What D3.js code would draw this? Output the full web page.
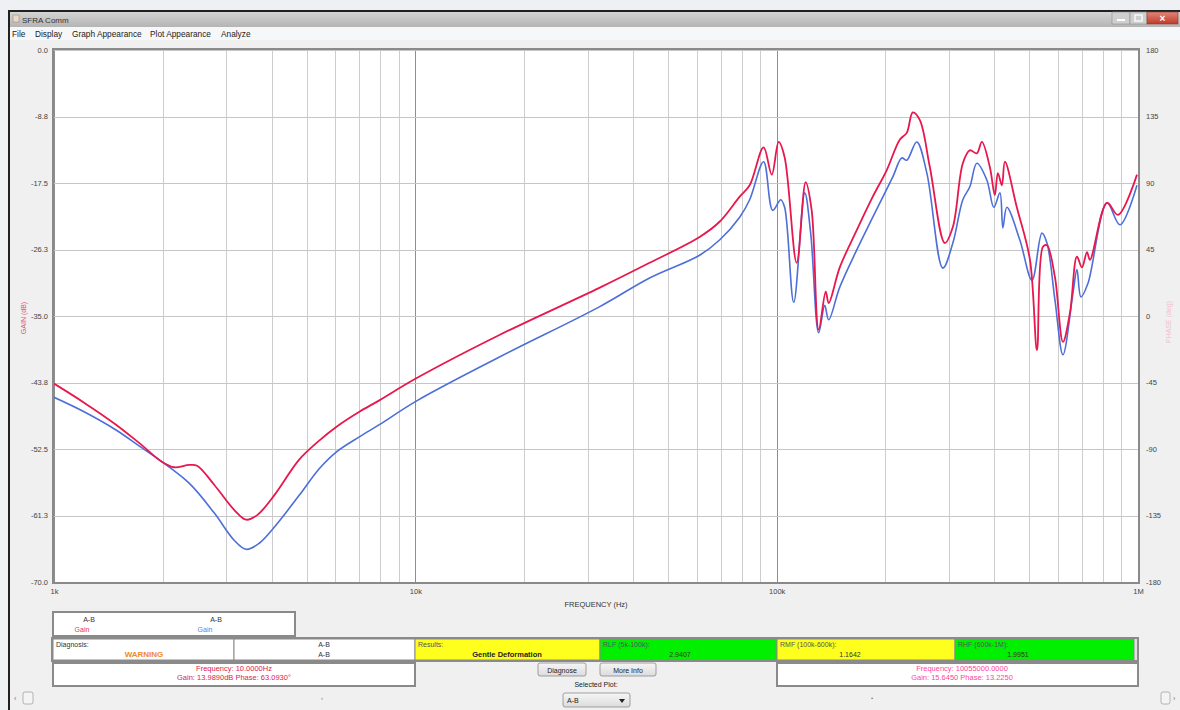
<!DOCTYPE html>
<html><head><meta charset="utf-8">
<script src="https://cdn.jsdelivr.net/npm/d3@7"></script>
<style>
html,body{margin:0;padding:0;background:#eef0f3;overflow:hidden;}
svg{display:block;font-family:"Liberation Sans",Arial,sans-serif;}
</style></head><body>
<svg id="c" width="1180" height="710"></svg>
<script>
// ---------- DATA ----------
const xTickValues = [1000, 10000, 100000, 1000000];
const xTickLabels = ["1k", "10k", "100k", "1M"];
const gainTickValues = [0, -8.75, -17.5, -26.25, -35, -43.75, -52.5, -61.25, -70];
const gainTickLabels = ["0.0", "-8.8", "-17.5", "-26.3", "-35.0", "-43.8", "-52.5", "-61.3", "-70.0"];
const phaseTickValues = [180, 135, 90, 45, 0, -45, -90, -135, -180];
const phaseTickLabels = ["180", "135", "90", "45", "0", "-45", "-90", "-135", "-180"];

// Red trace (A-B Gain), frequency in kHz, gain in dB
const redFreqKHz = [1.000, 1.211, 1.485, 1.720, 1.992, 2.150, 2.366, 2.489, 2.775, 3.152, 3.403, 3.650, 4.068, 4.771, 5.42, 6.04, 7.0, 7.95, 10.06, 17.09, 32.3, 44.5, 61.2, 69.5, 79.0, 84.2, 92.0, 96.9, 101.3, 105.2, 113.6, 120.3, 125.0, 130.7, 136.7, 139.3, 149.5, 166.6, 184.5, 201.7, 219.1, 229.1, 238.1, 248.9, 265.4, 292.0, 307.3, 327.5, 342.4, 358.1, 369.7, 389.0, 401.6, 409.4, 420.1, 428.2, 462.0, 502.3, 525.3, 545.7, 559.8, 589.1, 619.8, 648.1, 677.7, 699.7, 722.4, 736.3, 820.5, 880.4, 993.6];
const redGain = [-43.9, -46.4, -49.3, -51.7, -54.2, -54.9, -54.6, -54.7, -57.2, -60.5, -61.8, -61.2, -58.6, -53.9, -51.4, -49.6, -47.6, -46.1, -43.2, -37.5, -31.3, -28.0, -24.6, -22.6, -19.3, -17.8, -12.8, -16.4, -12.1, -14.1, -28.0, -17.4, -21.1, -36.8, -31.8, -33.3, -28.6, -23.7, -19.3, -15.8, -11.8, -10.9, -8.2, -9.2, -15.4, -25.4, -23.3, -14.9, -13.2, -13.6, -12.1, -15.4, -19.1, -16.2, -17.8, -14.7, -20.7, -27.6, -39.5, -25.9, -25.7, -29.9, -38.4, -34.6, -27.2, -28.6, -26.6, -27.6, -20.1, -21.7, -16.4];

// Blue trace (A-B Gain, reference)
const blueFreqKHz = [1.000, 1.211, 1.485, 1.720, 1.992, 2.366, 2.775, 3.152, 3.403, 3.698, 4.068, 4.771, 5.42, 6.04, 7.0, 7.95, 10.06, 17.09, 32.3, 44.5, 61.2, 69.5, 79.0, 84.2, 92.0, 97.5, 102.6, 105.2, 111.5, 119.6, 124.2, 130.7, 135.8, 139.3, 149.5, 166.6, 184.5, 209.6, 221.9, 229.1, 244.2, 260.4, 288.3, 307.3, 327.5, 342.4, 358.1, 381.6, 399.0, 414.8, 422.7, 433.6, 471.0, 508.8, 542.0, 559.8, 589.1, 619.8, 660.7, 677.7, 695.1, 727.1, 820.5, 891.3, 993.6];
const blueGain = [-45.7, -47.6, -50.0, -52.1, -54.2, -57.0, -60.9, -64.5, -65.7, -64.9, -62.8, -58.6, -55.1, -52.9, -50.9, -49.3, -46.2, -40.4, -33.8, -30.0, -27.0, -25.0, -22.0, -19.7, -14.7, -21.1, -19.7, -20.7, -33.2, -18.8, -24.1, -37.2, -33.6, -35.5, -31.2, -26.3, -22.0, -16.7, -14.2, -14.5, -12.1, -16.2, -28.7, -25.4, -19.7, -18.0, -14.9, -17.1, -20.7, -18.8, -23.4, -20.7, -25.0, -30.3, -24.1, -25.4, -32.9, -40.1, -32.0, -28.9, -32.5, -30.7, -20.1, -23.0, -17.8];

const windowTitle = "SFRA Comm";
const menuItems = ["File", "Display", "Graph Appearance", "Plot Appearance", "Analyze"];
const legendSeries = ["A-B", "A-B"];
const legendMeasure = ["Gain", "Gain"];
const diagLabels = ["Diagnosis:", "A-B", "Results:", "RLF (5k-100k):", "RMF (100k-600k):", "RHF (600k-1M):"];
const diagValues = ["WARNING", "A-B", "Gentle Deformation", "2.9407", "1.1642", "1.9951"];
const cursorLeft = ["Frequency: 10.0000Hz", "Gain: 13.9890dB  Phase: 63.0930°"];
const cursorRight = ["Frequency: 10055000.0000", "Gain: 15.6450  Phase: 13.2250"];
const buttonLabels = ["Diagnose", "More Info"];
const selectedPlotLabel = "Selected Plot:";
const selectedPlotValue = "A-B";
const xAxisTitle = "FREQUENCY (Hz)";
const leftAxisTitle = "GAIN (dB)";
const rightAxisTitle = "PHASE (deg)";

// ---------- DRAW ----------
const svg = d3.select("#c");
const defs = svg.append("defs");
const tg = defs.append("linearGradient").attr("id","tb").attr("x1",0).attr("x2",0).attr("y1",0).attr("y2",1);
tg.append("stop").attr("offset","0%").attr("stop-color","#d4d4d4");
tg.append("stop").attr("offset","100%").attr("stop-color","#b4b4b4");
const cg = defs.append("linearGradient").attr("id","cl").attr("x1",0).attr("x2",0).attr("y1",0).attr("y2",1);
cg.append("stop").attr("offset","0%").attr("stop-color","#e0867a");
cg.append("stop").attr("offset","100%").attr("stop-color","#c23a2a");
const bg = defs.append("linearGradient").attr("id","btn").attr("x1",0).attr("x2",0).attr("y1",0).attr("y2",1);
bg.append("stop").attr("offset","0%").attr("stop-color","#f6f6f6");
bg.append("stop").attr("offset","100%").attr("stop-color","#dcdcdc");

svg.append("rect").attr("width",1180).attr("height",710).attr("fill","#eef0f3");
svg.append("rect").attr("x",9).attr("y",11).attr("width",1171).attr("height",699).attr("fill","#f0f0f0");
// title bar
svg.append("rect").attr("x",10).attr("y",12).attr("width",1170).attr("height",15).attr("fill","url(#tb)");
svg.append("line").attr("x1",8).attr("x2",1180).attr("y1",11).attr("y2",11).attr("stroke","#202020").attr("stroke-width",2);
svg.append("line").attr("x1",9).attr("x2",9).attr("y1",10).attr("y2",710).attr("stroke","#202020").attr("stroke-width",2);
svg.append("rect").attr("x",13).attr("y",15).attr("width",6).attr("height",7).attr("fill","#e9d9c9").attr("stroke","#a08060").attr("stroke-width",0.5);
svg.append("text").attr("x",22).attr("y",23).attr("font-size",8).attr("fill","#333").text(windowTitle);
// caption buttons
svg.append("rect").attr("x",1112).attr("y",12).attr("width",18).attr("height",12).attr("fill","#cfcfcf").attr("stroke","#8c8c8c").attr("stroke-width",0.6);
svg.append("rect").attr("x",1130).attr("y",12).attr("width",17).attr("height",12).attr("fill","#cfcfcf").attr("stroke","#8c8c8c").attr("stroke-width",0.6);
svg.append("rect").attr("x",1147).attr("y",12).attr("width",31).attr("height",12).attr("fill","url(#cl)").attr("stroke","#8c3a30").attr("stroke-width",0.6);
svg.append("line").attr("x1",1117).attr("x2",1125).attr("y1",20).attr("y2",20).attr("stroke","#fff").attr("stroke-width",2);
svg.append("rect").attr("x",1135).attr("y",15).attr("width",7).attr("height",6).attr("fill","none").attr("stroke","#fff").attr("stroke-width",1.3);
svg.append("text").attr("x",1162.5).attr("y",22).attr("text-anchor","middle").attr("font-size",10).attr("font-weight","bold").attr("fill","#fff").text("×");
// menu bar
svg.append("rect").attr("x",10).attr("y",27).attr("width",1170).attr("height",13).attr("fill","#f6f7f9");
const menuX = [12, 35, 72, 150, 221];
svg.selectAll("text.menu").data(menuItems).enter().append("text").attr("class","menu")
  .attr("x",(d,i)=>menuX[i]).attr("y",37).attr("font-size",8.3).attr("fill","#222").text(d=>d);

// plot geometry
const L = 54, R = 1138, T = 50, B = 582;
const x = d3.scaleLog().domain([1000, 1000000]).range([L, R]);
const y = d3.scaleLinear().domain([-70, 0]).range([B, T]);
const yR = d3.scaleLinear().domain([-180, 180]).range([B, T]);

svg.append("rect").attr("x",L).attr("y",T-1).attr("width",R-L).attr("height",B-T+1).attr("fill","#fff");

// vertical grid (all 1..9 multiples per decade)
const isDecade = d => { const l = Math.log10(d); return Math.abs(l - Math.round(l)) < 1e-9; };
const gx = svg.append("g").attr("transform",`translate(0,${B})`)
  .call(d3.axisBottom(x).tickValues(x.ticks(30)).tickSize(-(B-T)).tickFormat(""));
gx.select(".domain").remove();
gx.selectAll(".tick line").attr("stroke", d => isDecade(d) ? "#8e8e8e" : "#cdcdcd")
  .attr("stroke-width",1).attr("shape-rendering","crispEdges");

// horizontal grid
const gy = svg.append("g").attr("transform",`translate(${L},0)`)
  .call(d3.axisLeft(y).tickValues(gainTickValues).tickSize(-(R-L)).tickFormat(""));
gy.select(".domain").remove();
gy.selectAll(".tick line").attr("stroke","#c6c6c6").attr("stroke-width",1).attr("shape-rendering","crispEdges");

// left axis labels
const ay = svg.append("g").attr("transform",`translate(${L-6},0)`)
  .call(d3.axisLeft(y).tickValues(gainTickValues).tickSize(0).tickFormat((d,i)=>gainTickLabels[i]));
ay.select(".domain").remove();
ay.selectAll("text").attr("font-size",7.5).attr("fill","#444").attr("font-family","Liberation Sans, Arial").attr("x",0);

// right axis labels
const ar = svg.append("g").attr("transform",`translate(${R+8},0)`)
  .call(d3.axisRight(yR).tickValues(phaseTickValues).tickSize(0).tickFormat((d,i)=>phaseTickLabels[i]));
ar.select(".domain").remove();
ar.selectAll("text").attr("font-size",7.5).attr("fill","#444").attr("font-family","Liberation Sans, Arial").attr("x",0);

// bottom axis labels
const ax = svg.append("g").attr("transform",`translate(0,${B+7})`)
  .call(d3.axisBottom(x).tickValues(xTickValues).tickSize(0).tickFormat((d,i)=>xTickLabels[i]));
ax.select(".domain").remove();
ax.selectAll("text").attr("font-size",7.5).attr("fill","#444").attr("font-family","Liberation Sans, Arial").attr("y",0).attr("dy","0.71em");

svg.append("text").attr("x",596).attr("y",607).attr("text-anchor","middle").attr("font-size",7.5).attr("fill","#333").text(xAxisTitle);
svg.append("text").attr("transform","translate(26,318) rotate(-90)").attr("text-anchor","middle").attr("font-size",7).attr("fill","#e0557a").text(leftAxisTitle);
svg.append("text").attr("transform","translate(1171,322) rotate(-90)").attr("text-anchor","middle").attr("font-size",7).attr("fill","#f3c2cf").text(rightAxisTitle);

// traces
defs.append("clipPath").attr("id","pc").append("rect").attr("x",L).attr("y",T).attr("width",R-L).attr("height",B-T);
const line = d3.line().x(d=>x(d[0]*1000)).y(d=>y(d[1])).curve(d3.curveCatmullRom.alpha(0.5));
const blueData = blueFreqKHz.map((f,i)=>[f, blueGain[i]]);
const redData = redFreqKHz.map((f,i)=>[f, redGain[i]]);
const pg = svg.append("g").attr("clip-path","url(#pc)");
pg.append("path").datum(blueData).attr("d",line).attr("fill","none").attr("stroke","#4c6fd8").attr("stroke-width",1.6).attr("stroke-linejoin","round");
pg.append("path").datum(redData).attr("d",line).attr("fill","none").attr("stroke","#e8174d").attr("stroke-width",1.8).attr("stroke-linejoin","round");

// frame
svg.append("rect").attr("x",L-1).attr("y",T-1).attr("width",R-L+2).attr("height",B-T+2).attr("fill","none").attr("stroke","#8a8a8a").attr("stroke-width",2);

// legend box
svg.append("rect").attr("x",53).attr("y",612).attr("width",242).attr("height",24).attr("fill","#fff").attr("stroke","#8a8a8a").attr("stroke-width",2);
const legX = [89, 216], legGX = [82, 205], legC = ["#e8306a", "#5a7ee0"];
legendSeries.forEach((s,i)=>{
  svg.append("text").attr("x",legX[i]).attr("y",622).attr("text-anchor","middle").attr("font-size",7).attr("fill","#333").text(s);
  svg.append("text").attr("x",legGX[i]).attr("y",632).attr("text-anchor","middle").attr("font-size",7).attr("fill",legC[i]).text(legendMeasure[i]);
});

// diagnosis row
const cellEdges = [53, 234, 415, 600, 777, 955, 1134];
const cellFill = ["#ffffff", "#ffffff", "#ffff1e", "#00f000", "#ffff1e", "#00f000"];
const valueX = [144, 324, 507, 680, 850, 1018];
svg.append("rect").attr("x",52).attr("y",638).attr("width",1086).attr("height",23).attr("fill","#e0e0e0").attr("stroke","#8a8a8a").attr("stroke-width",2);
diagLabels.forEach((lab,i)=>{
  svg.append("rect").attr("x",cellEdges[i]).attr("y",639).attr("width",cellEdges[i+1]-cellEdges[i]).attr("height",21)
    .attr("fill",cellFill[i]).attr("stroke","#8a8a8a").attr("stroke-width",1);
  if (i === 1) {
    svg.append("text").attr("x",valueX[i]).attr("y",647).attr("text-anchor","middle").attr("font-size",7).attr("fill","#333").text(lab);
  } else {
    svg.append("text").attr("x",cellEdges[i]+3).attr("y",647).attr("font-size",7).attr("fill", i===0?"#333":"#555").text(lab);
  }
  const v = svg.append("text").attr("x",valueX[i]).attr("y",657).attr("text-anchor","middle").attr("font-size",7.5).text(diagValues[i]);
  if (i === 0) v.attr("fill","#f08a2a").attr("font-size",8).attr("font-weight","bold");
  else if (i === 2) v.attr("fill","#222").attr("font-weight","bold");
  else v.attr("fill","#333").attr("font-size",7);
});

// cursor boxes
svg.append("rect").attr("x",53).attr("y",663).attr("width",362).attr("height",23).attr("fill","#fff").attr("stroke","#8a8a8a").attr("stroke-width",2);
cursorLeft.forEach((t,i)=>svg.append("text").attr("x",234).attr("y",671+i*9).attr("text-anchor","middle").attr("font-size",7.5).attr("fill","#e0204e").text(t));
svg.append("rect").attr("x",777).attr("y",663).attr("width",361).attr("height",23).attr("fill","#fff").attr("stroke","#8a8a8a").attr("stroke-width",2);
cursorRight.forEach((t,i)=>svg.append("text").attr("x",962).attr("y",671+i*9).attr("text-anchor","middle").attr("font-size",7.5).attr("fill","#ff3fa0").text(t));

// buttons
const btnX = [538, 600], btnW = [48, 56];
buttonLabels.forEach((b,i)=>{
  svg.append("rect").attr("x",btnX[i]).attr("y",663).attr("width",btnW[i]).attr("height",13).attr("rx",2).attr("fill","url(#btn)").attr("stroke","#8a8a8a").attr("stroke-width",0.8);
  svg.append("text").attr("x",btnX[i]+btnW[i]/2).attr("y",672.5).attr("text-anchor","middle").attr("font-size",7).attr("fill","#222").text(b);
});
svg.append("text").attr("x",596).attr("y",687).attr("text-anchor","middle").attr("font-size",7).attr("fill","#222").text(selectedPlotLabel);
svg.append("rect").attr("x",563).attr("y",693).attr("width",67).attr("height",14).attr("rx",2).attr("fill","url(#btn)").attr("stroke","#8a8a8a").attr("stroke-width",0.8);
svg.append("text").attr("x",567).attr("y",703).attr("font-size",7).attr("fill","#222").text(selectedPlotValue);
svg.append("path").attr("d","M619,699 L625,699 L622,703 Z").attr("fill","#222");

// scrollbar
svg.append("text").attr("x",14).attr("y",701).attr("font-size",7).attr("fill","#777").text("‹");
svg.append("rect").attr("x",23).attr("y",692).attr("width",10).attr("height",12).attr("rx",2).attr("fill","#f4f4f4").attr("stroke","#9a9a9a").attr("stroke-width",0.7);
svg.append("text").attr("x",321).attr("y",700).attr("font-size",6).attr("fill","#777").text("›");
svg.append("text").attr("x",871).attr("y",700).attr("font-size",6).attr("fill","#777").text("•");
svg.append("rect").attr("x",1161).attr("y",692).attr("width",9).attr("height",12).attr("rx",2).attr("fill","#f4f4f4").attr("stroke","#9a9a9a").attr("stroke-width",0.7);
svg.append("text").attr("x",1173).attr("y",701).attr("font-size",7).attr("fill","#777").text("›");
</script>
</body></html>
